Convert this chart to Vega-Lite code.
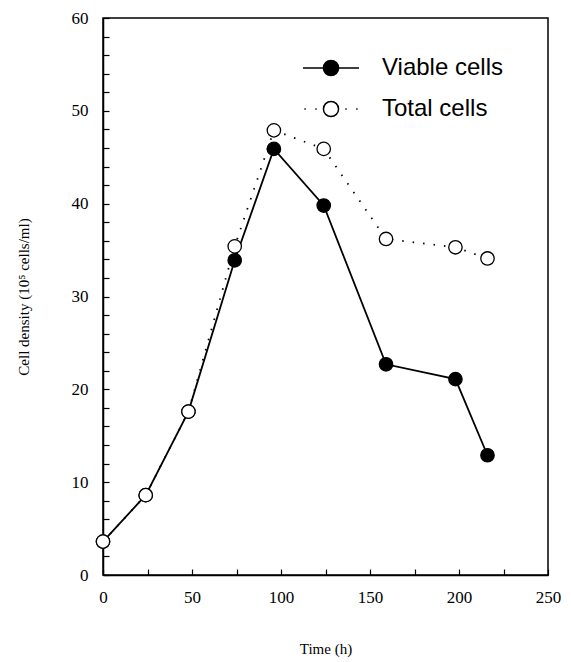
{
  "$schema": "https://vega.github.io/schema/vega-lite/v6.json",
  "width": 445,
  "height": 557,
  "autosize": "none",
  "padding": {"left": 103, "top": 18, "right": 23, "bottom": 87},
  "background": "white",
  "config": {
    "view": {"stroke": "black", "strokeWidth": 1.5},
    "axis": {
      "grid": false,
      "domainColor": "black",
      "domainWidth": 1.5,
      "tickColor": "black",
      "tickWidth": 1.2,
      "tickSize": -6,
      "labelFlush": false,
      "labelFont": "Liberation Serif",
      "labelFontSize": 17,
      "labelColor": "black",
      "titleFont": "Liberation Serif",
      "titleFontSize": 15,
      "titleFontWeight": "normal",
      "titleColor": "black"
    }
  },
  "data": {
    "values": [
      {"series": "Viable cells", "time": 0, "density": 3.6},
      {"series": "Viable cells", "time": 24, "density": 8.6},
      {"series": "Viable cells", "time": 48, "density": 17.6},
      {"series": "Viable cells", "time": 74, "density": 33.9},
      {"series": "Viable cells", "time": 96, "density": 45.9},
      {"series": "Viable cells", "time": 124, "density": 39.8},
      {"series": "Viable cells", "time": 159, "density": 22.7},
      {"series": "Viable cells", "time": 198, "density": 21.1},
      {"series": "Viable cells", "time": 216, "density": 12.9},
      {"series": "Total cells", "time": 0, "density": 3.6},
      {"series": "Total cells", "time": 24, "density": 8.6},
      {"series": "Total cells", "time": 48, "density": 17.6},
      {"series": "Total cells", "time": 74, "density": 35.4},
      {"series": "Total cells", "time": 96, "density": 47.9},
      {"series": "Total cells", "time": 124, "density": 45.9},
      {"series": "Total cells", "time": 159, "density": 36.2},
      {"series": "Total cells", "time": 198, "density": 35.3},
      {"series": "Total cells", "time": 216, "density": 34.1}
    ]
  },
  "encoding": {
    "x": {
      "field": "time",
      "type": "quantitative",
      "scale": {"domain": [0, 250], "nice": false},
      "axis": {
        "title": "Time (h)",
        "values": [0, 25, 50, 75, 100, 125, 150, 175, 200, 225, 250],
        "labelExpr": "datum.value % 50 === 0 ? datum.label : ''",
        "labelPadding": 20,
        "titlePadding": 36
      }
    },
    "y": {
      "field": "density",
      "type": "quantitative",
      "scale": {"domain": [0, 60], "nice": false},
      "axis": {
        "title": "Cell density (10⁵ cells/ml)",
        "values": [0, 2, 4, 6, 8, 10, 12, 14, 16, 18, 20, 22, 24, 26, 28, 30, 32, 34, 36, 38, 40, 42, 44, 46, 48, 50, 52, 54, 56, 58, 60],
        "labelExpr": "datum.value % 10 === 0 ? datum.label : ''",
        "labelPadding": 21,
        "titlePadding": 40
      }
    }
  },
  "layer": [
    {
      "transform": [{"filter": "datum.series === 'Total cells'"}],
      "mark": {"type": "line", "color": "black", "strokeWidth": 1.8, "strokeDash": [1.5, 9]},
      "encoding": {}
    },
    {
      "transform": [{"filter": "datum.series === 'Viable cells'"}],
      "mark": {"type": "line", "color": "black", "strokeWidth": 1.8},
      "encoding": {}
    },
    {
      "mark": {"type": "point", "filled": true, "shape": "circle", "size": 180, "stroke": "black", "strokeWidth": 1.3, "opacity": 1},
      "encoding": {
        "color": {
          "field": "series",
          "type": "nominal",
          "scale": {"domain": ["Viable cells", "Total cells"], "range": ["black", "white"]},
          "legend": {
            "title": null,
            "orient": "none",
            "legendX": 199,
            "legendY": 21,
            "padding": 0,
            "rowPadding": -6,
            "symbolSize": 3136,
            "symbolStrokeColor": "black",
            "symbolStrokeWidth": 1.5,
            "symbolOpacity": 1,
            "symbolType": "M-1,0L-0.27,0M0.27,0L1,0M0.27,0A0.27,0.27,0,1,1,-0.27,0A0.27,0.27,0,1,1,0.27,0Z",
            "labelFont": "Liberation Sans",
            "labelFontSize": 24,
            "labelColor": "black",
            "labelOffset": 22,
            "encode": {
              "symbols": {
                "update": {
                  "shape": {"signal": "datum.value === 'Total cells' ? 'M-0.95,0L-0.9,0M-0.56,0L-0.51,0M0.51,0L0.56,0M0.9,0L0.95,0M0.27,0A0.27,0.27,0,1,1,-0.27,0A0.27,0.27,0,1,1,0.27,0Z' : 'M-1,0L-0.27,0M0.27,0L1,0M0.27,0A0.27,0.27,0,1,1,-0.27,0A0.27,0.27,0,1,1,0.27,0Z'"},
                  "stroke": {"value": "black"}
                }
              }
            }
          }
        }
      }
    }
  ]
}
